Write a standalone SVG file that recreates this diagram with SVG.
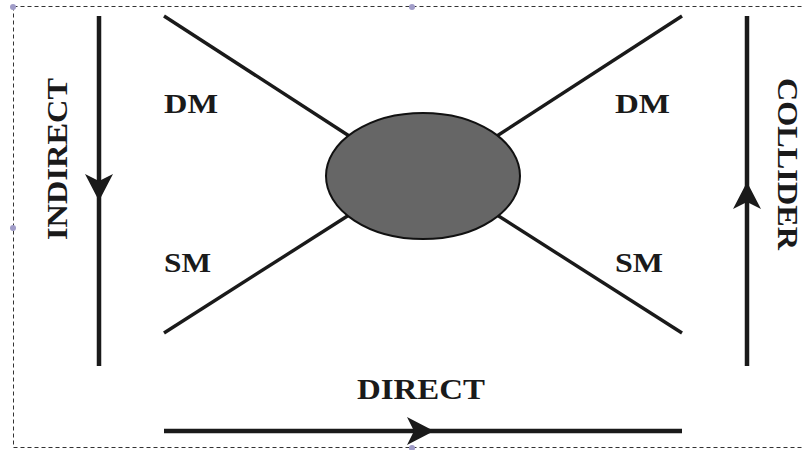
<svg xmlns="http://www.w3.org/2000/svg" width="802" height="450" viewBox="0 0 802 450">
<style>
.leg{stroke:#1a1a1a;stroke-width:3.4;fill:none}
.flow{stroke:#1a1a1a;stroke-width:4.5;fill:none}
.lbl{font-family:"Liberation Serif",serif;font-weight:bold;font-size:27px;fill:#1a1a1a}
.big{font-family:"Liberation Serif",serif;font-weight:bold;font-size:29px;fill:#1a1a1a}
.handle{fill:#a09cc8}
</style>
<defs>
<path id="ah" d="M0,0 L-27,-14 L-20,0 L-27,14 Z" fill="#1a1a1a"/>
</defs>
<rect x="13.5" y="6.5" width="800" height="441" fill="none" stroke="#333" stroke-width="1" stroke-dasharray="4,3"/>
<circle class="handle" cx="13" cy="7" r="3"/>
<circle class="handle" cx="13" cy="228" r="3"/>
<circle class="handle" cx="412" cy="7" r="3"/>
<circle class="handle" cx="412" cy="448" r="3"/>
<g id="connectors">
<line class="leg" x1="164" y1="16" x2="360" y2="143"/>
<line class="leg" x1="164" y1="333" x2="360" y2="208"/>
<line class="leg" x1="682" y1="16" x2="486" y2="143"/>
<line class="leg" x1="682" y1="333" x2="486" y2="208"/>
<line class="flow" x1="99" y1="16" x2="99" y2="366"/>
<use href="#ah" transform="translate(99,201) rotate(90)"/>
<line class="flow" x1="747" y1="16" x2="747" y2="366"/>
<use href="#ah" transform="translate(747,182) rotate(-90)"/>
<line class="flow" x1="164" y1="431" x2="682" y2="431"/>
<use href="#ah" transform="translate(434,431)"/>
</g>
<g id="blob">
<ellipse cx="423" cy="176" rx="97" ry="63" fill="#666" stroke="#111" stroke-width="2"/>
</g>
<g id="labels">
<text class="lbl" x="164" y="113" textLength="54" lengthAdjust="spacingAndGlyphs">DM</text>
<text class="lbl" x="164" y="272" textLength="47" lengthAdjust="spacingAndGlyphs">SM</text>
<text class="lbl" x="615" y="113" textLength="55" lengthAdjust="spacingAndGlyphs">DM</text>
<text class="lbl" x="615" y="272" textLength="48" lengthAdjust="spacingAndGlyphs">SM</text>
<text class="big" x="357" y="399" textLength="128" lengthAdjust="spacingAndGlyphs">DIRECT</text>
<text class="big" transform="translate(67,240) rotate(-90)" textLength="162" lengthAdjust="spacingAndGlyphs">INDIRECT</text>
<text class="big" transform="translate(778,78) rotate(90)" textLength="172" lengthAdjust="spacingAndGlyphs">COLLIDER</text>
</g>
</svg>
